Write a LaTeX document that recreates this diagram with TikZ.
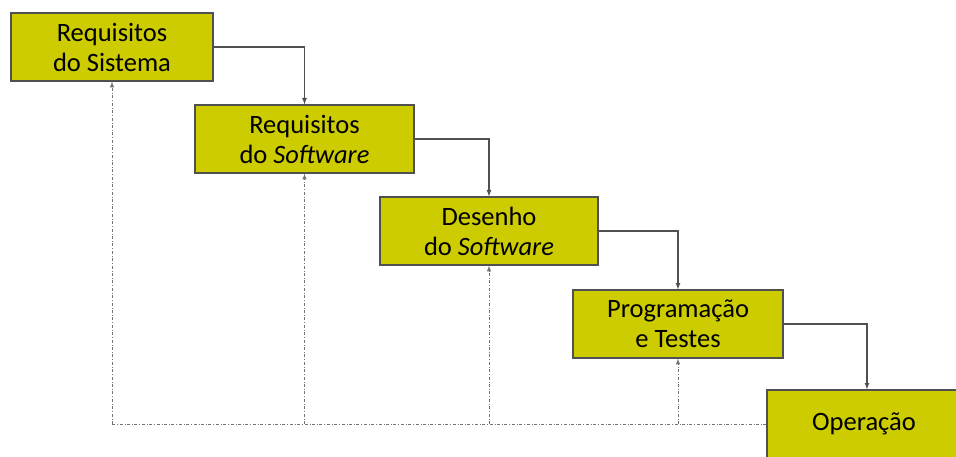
\documentclass[tikz,border=0pt]{standalone}
\usepackage{fontspec}
\setmainfont{Carlito}
\definecolor{etapa}{RGB}{204,204,0}
\definecolor{borda}{RGB}{80,80,80}
\begin{document}
\begin{tikzpicture}[x=1pt,y=-1pt,>=latex,font=\fontsize{26.5}{30}\selectfont]
		\useasboundingbox (0,0) rectangle (956,457);
		\foreach \x/\y/\w/\t[count=\i] in {
				112/47/202/{Requisitos\\do Sistema},
				304.5/139/219/{Requisitos\\do \textit{Software}},
				489/231/218/{Desenho\\do \textit{Software}},
				678/324/210/{Programação\\e Testes},
				867/424/200/{Operação}
			}
		\node at(\x,\y)[draw=borda,fill=etapa,line width=1.2pt,align=center,minimum width=\w pt,minimum height=68pt,inner sep=0pt](\i){\t};
		\foreach \i[evaluate=\i as\j using int(\i+1)] in {1,...,4}
		\draw[->,borda,line width=1.2pt] (\i.east) -| (\j.north);
		\draw[dash dot,borda!80,line width=1pt] (5.west) -- (1.south |- 5.west);
		\foreach \i in {1,...,4}
		\draw[->,dash dot,borda!80,line width=1pt] (\i.south |- 5.west) -- (\i.south);
	\end{tikzpicture}
\end{document}
